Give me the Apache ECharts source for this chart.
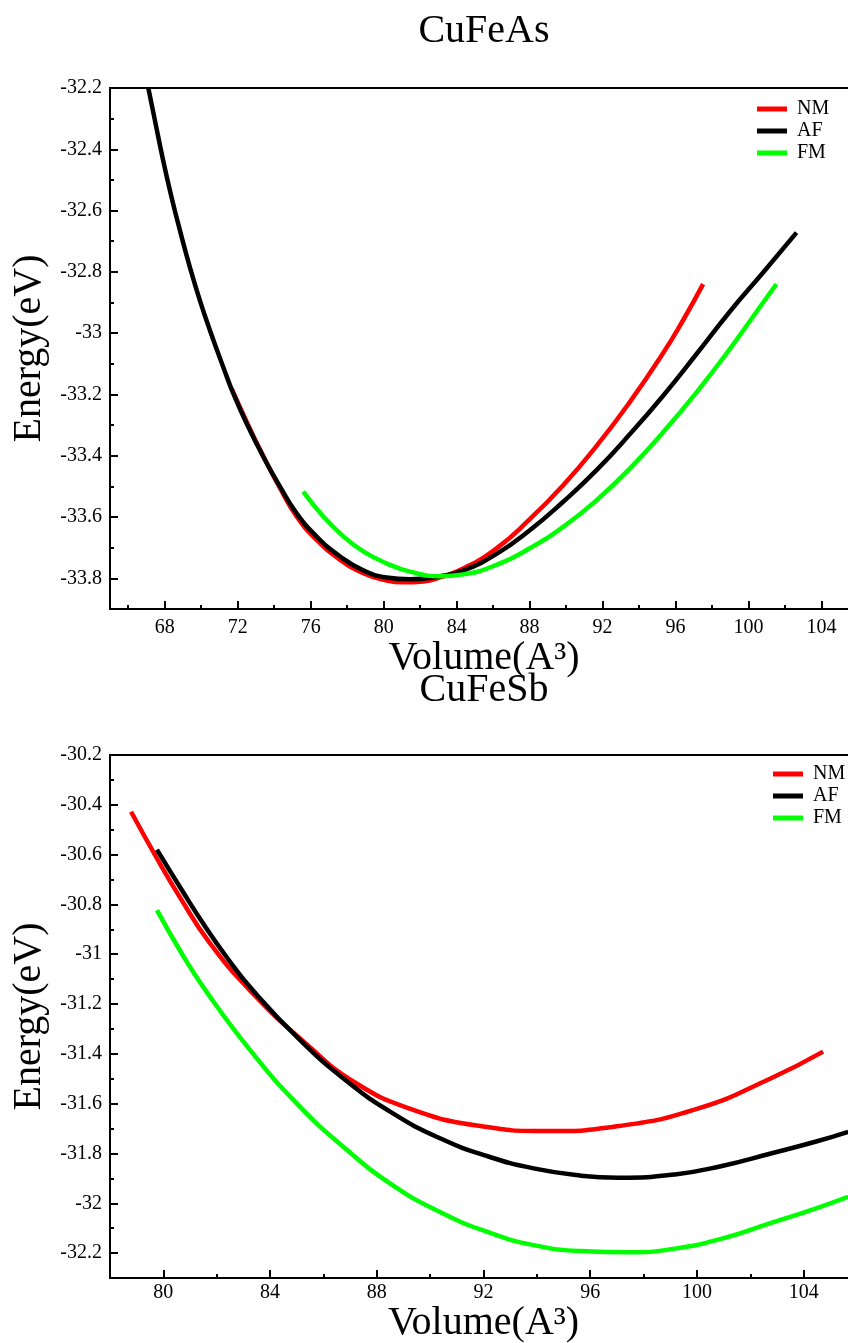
<!DOCTYPE html>
<html>
<head>
<meta charset="utf-8">
<script src="https://cdn.jsdelivr.net/npm/echarts@6/dist/echarts.min.js"></script>
<style>
html,body{margin:0;padding:0;background:#fff;overflow:hidden;}
#chart{width:848px;height:1343px;}
</style>
</head>
<body>
<div id="chart"></div>
<script>
// ---------- Data ----------
const seriesNames = ['NM', 'AF', 'FM'];
const seriesColors = ['#ff0000', '#000000', '#00ff00'];

// CuFeAs  [volume, energy]
const asNM = [[71.67,-33.181],[72.49,-33.289],[73.40,-33.401],[74.32,-33.506],[75.23,-33.598],[76.32,-33.674],[77.60,-33.739],[78.88,-33.783],[80.16,-33.807],[81.07,-33.813],[82.17,-33.810],[83.08,-33.797],[84.36,-33.768],[86.19,-33.702],[88.01,-33.607],[89.84,-33.496],[91.67,-33.368],[93.49,-33.225],[95.32,-33.065],[96.42,-32.957],[97.51,-32.840]];
const asAF = [[67.10,-32.200],[67.47,-32.308],[67.92,-32.438],[68.38,-32.558],[68.84,-32.666],[69.38,-32.785],[69.93,-32.894],[70.48,-32.991],[71.21,-33.111],[71.76,-33.197],[72.49,-33.295],[73.40,-33.403],[74.32,-33.501],[75.23,-33.588],[76.32,-33.663],[77.60,-33.728],[78.88,-33.774],[80.16,-33.797],[81.44,-33.803],[83.08,-33.793],[84.36,-33.775],[86.19,-33.720],[88.01,-33.643],[89.84,-33.550],[91.67,-33.447],[93.49,-33.330],[95.32,-33.204],[97.15,-33.068],[98.97,-32.930],[100.80,-32.802],[102.63,-32.672]];
const asFM = [[75.59,-33.517],[76.69,-33.598],[77.79,-33.663],[78.88,-33.712],[80.16,-33.751],[81.44,-33.778],[83.08,-33.793],[84.36,-33.787],[86.19,-33.756],[88.01,-33.702],[89.84,-33.632],[91.67,-33.545],[93.49,-33.442],[95.32,-33.323],[97.15,-33.193],[98.97,-33.052],[100.80,-32.900],[101.53,-32.840]];

// CuFeSb  [volume, energy]
const sbNM = [[78.79,-30.428],[79.76,-30.615],[80.65,-30.776],[81.71,-30.950],[83.29,-31.150],[85.41,-31.365],[87.18,-31.515],[89.29,-31.622],[91.76,-31.688],[94.41,-31.710],[97.06,-31.690],[100.06,-31.619],[102.70,-31.502],[104.73,-31.391]];
const sbAF = [[79.76,-30.580],[80.65,-30.735],[81.53,-30.883],[82.41,-31.017],[83.29,-31.137],[85.06,-31.338],[86.82,-31.505],[88.59,-31.638],[90.35,-31.738],[92.12,-31.810],[93.88,-31.860],[95.65,-31.889],[97.06,-31.897],[99.18,-31.884],[100.94,-31.850],[102.70,-31.802],[104.47,-31.752],[105.67,-31.713]];
const sbFM = [[79.76,-30.823],[80.65,-30.990],[81.53,-31.137],[83.29,-31.390],[85.06,-31.606],[86.82,-31.780],[88.59,-31.927],[90.35,-32.034],[92.12,-32.114],[93.88,-32.168],[95.65,-32.192],[97.41,-32.197],[99.18,-32.182],[100.94,-32.142],[102.70,-32.082],[104.47,-32.020],[105.67,-31.974]];

// Tick values
const asXMajor = [68,72,76,80,84,88,92,96,100,104];
const asXMinor = [66,70,74,78,82,86,90,94,98,102];
const asYMajor = [-33.8,-33.6,-33.4,-33.2,-33,-32.8,-32.6,-32.4,-32.2];
const asYMinor = [-33.7,-33.5,-33.3,-33.1,-32.9,-32.7,-32.5,-32.3];
const sbXMajor = [80,84,88,92,96,100,104];
const sbXMinor = [82,86,90,94,98,102];
const sbYMajor = [-32.2,-32,-31.8,-31.6,-31.4,-31.2,-31,-30.8,-30.6,-30.4,-30.2];
const sbYMinor = [-32.1,-31.9,-31.7,-31.5,-31.3,-31.1,-30.9,-30.7,-30.5,-30.3];

// ---------- Chart ----------
const FONT = '"Liberation Serif","DejaVu Serif","Times New Roman",serif';
const chart = echarts.init(document.getElementById('chart'));

function mainX(grid, min, max, ticks, gap, margin) {
  return {
    gridIndex: grid, type: 'value', position: 'bottom', min: min, max: max,
    name: 'Volume(A³)', nameLocation: 'middle', nameGap: gap,
    nameTextStyle: {fontFamily: FONT, fontSize: 40, color: '#000'},
    axisLine: {show: true, onZero: false, lineStyle: {color: '#000', width: 2}},
    axisTick: {show: true, inside: true, length: 8, customValues: ticks, lineStyle: {color: '#000', width: 2}},
    axisLabel: {show: true, customValues: ticks, margin: margin, fontFamily: FONT, fontSize: 20, color: '#000'},
    splitLine: {show: false}
  };
}
function minorX(grid, min, max, ticks) {
  return {
    gridIndex: grid, type: 'value', position: 'bottom', min: min, max: max,
    axisLine: {show: false, onZero: false},
    axisTick: {show: true, inside: true, length: 4, customValues: ticks, lineStyle: {color: '#000', width: 2}},
    axisLabel: {show: false}, splitLine: {show: false}
  };
}
function mainY(grid, min, max, ticks) {
  return {
    gridIndex: grid, type: 'value', position: 'left', min: min, max: max,
    name: 'Energy(eV)', nameLocation: 'middle', nameGap: 57, nameRotate: 90,
    nameTextStyle: {fontFamily: FONT, fontSize: 40, color: '#000'},
    axisLine: {show: true, onZero: false, lineStyle: {color: '#000', width: 2}},
    axisTick: {show: true, inside: true, length: 8, customValues: ticks, lineStyle: {color: '#000', width: 2}},
    axisLabel: {show: true, customValues: ticks, margin: 8, fontFamily: FONT, fontSize: 20, color: '#000'},
    splitLine: {show: false}
  };
}
function minorY(grid, min, max, ticks) {
  return {
    gridIndex: grid, type: 'value', position: 'left', min: min, max: max,
    axisLine: {show: false, onZero: false},
    axisTick: {show: true, inside: true, length: 4, customValues: ticks, lineStyle: {color: '#000', width: 2}},
    axisLabel: {show: false}, splitLine: {show: false}
  };
}
function line(name, idx, data, axis) {
  return {
    name: name, type: 'line', data: data, xAxisIndex: axis, yAxisIndex: axis,
    smooth: true, symbol: 'none', showSymbol: false, clip: true,
    color: seriesColors[idx],
    lineStyle: {color: seriesColors[idx], width: 4.5},
    z: 2 + idx
  };
}
function legendAt(left, top) {
  return {
    left: left, top: top, orient: 'vertical', icon: 'rect',
    itemWidth: 30, itemHeight: 5, itemGap: 2, padding: 0,
    data: seriesNames,
    textStyle: {fontFamily: FONT, fontSize: 20, color: '#000', lineHeight: 20, padding: [0, 0, 0, 5]},
    itemStyle: {borderWidth: 0}
  };
}

chart.setOption({
  animation: false,
  backgroundColor: '#fff',
  graphic: [
    {type: 'text', x: 484, y: 31, style: {text: 'CuFeAs', font: '40px ' + FONT, fill: '#000', align: 'center', verticalAlign: 'middle'}},
    {type: 'text', x: 484, y: 690, style: {text: 'CuFeSb', font: '40px ' + FONT, fill: '#000', align: 'center', verticalAlign: 'middle'}}
  ],
  grid: [
    {left: 110, top: 88, width: 748, height: 521, outerBoundsMode: 'none', containLabel: false, show: true, borderColor: '#000', borderWidth: 2, backgroundColor: 'transparent'},
    {left: 110, top: 755, width: 747, height: 523, outerBoundsMode: 'none', containLabel: false, show: true, borderColor: '#000', borderWidth: 2, backgroundColor: 'transparent'}
  ],
  legend: [legendAt(757, 99), legendAt(773, 764)],
  xAxis: [
    mainX(0, 65, 106, asXMajor, 16, 9),
    minorX(0, 65, 106, asXMinor),
    mainX(1, 78, 106, sbXMajor, 4, 5),
    minorX(1, 78, 106, sbXMinor)
  ],
  yAxis: [
    mainY(0, -33.9, -32.2, asYMajor),
    minorY(0, -33.9, -32.2, asYMinor),
    mainY(1, -32.3, -30.2, sbYMajor),
    minorY(1, -32.3, -30.2, sbYMinor)
  ],
  series: [
    line('NM', 0, asNM, 0),
    line('AF', 1, asAF, 0),
    line('FM', 2, asFM, 0),
    line('NM', 0, sbNM, 2),
    line('AF', 1, sbAF, 2),
    line('FM', 2, sbFM, 2)
  ]
});
</script>
</body>
</html>
